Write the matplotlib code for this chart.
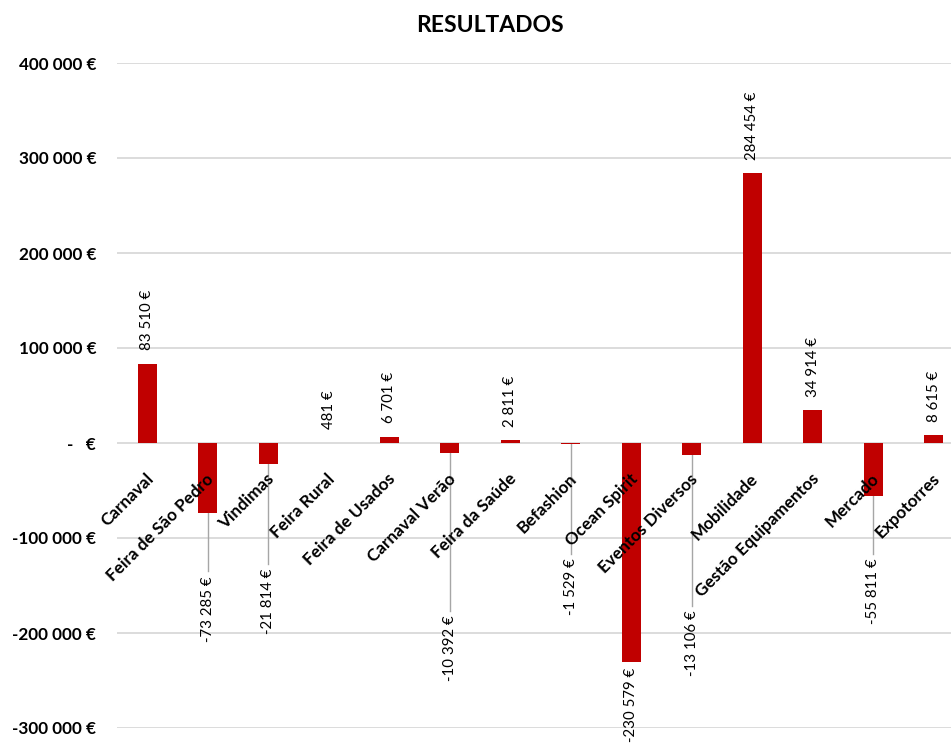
import matplotlib
matplotlib.use("Agg")
import matplotlib.pyplot as plt
from matplotlib.ticker import FuncFormatter

categories = ["Carnaval", "Feira de São Pedro", "Vindimas", "Feira Rural",
              "Feira de Usados", "Carnaval Verão", "Feira da Saúde", "Befashion",
              "Ocean Spirit", "Eventos Diversos", "Mobilidade",
              "Gestão Equipamentos", "Mercado", "Expotorres"]
values = [83510, -73285, -21814, 481, 6701, -10392, 2811, -1529,
          -230579, -13106, 284454, 34914, -55811, 8615]
yticks = [-300000, -200000, -100000, 0, 100000, 200000, 300000, 400000]

# manually placed negative labels (top of label, data units)
neg_label_top = {1: -140000, 2: -132000, 5: -181500, 7: -121500,
                 8: -237000, 9: -176500, 12: -121500}

plt.rcParams['font.family'] = ['Lato', 'DejaVu Sans']

W, H = 951, 743
fig = plt.figure(figsize=(W / 100, H / 100), dpi=100)
ax = fig.add_axes([117 / W, 15 / H, 847 / W, 665 / H])

x = list(range(len(categories)))
ax.bar(x, values, width=0.32, color="#C00000", zorder=3)

ax.set_xlim(-0.5, len(categories) - 0.5)
ax.set_ylim(-300000, 400000)
ax.set_yticks(yticks)


def fmt_tick(v, pos=None):
    if v == 0:
        return "-   €"
    s = f"{abs(int(v)):,}".replace(",", " ")
    return ("-" if v < 0 else "") + s + " €"


def fmt_val(v):
    s = f"{abs(int(v)):,}".replace(",", " ")
    return ("-" if v < 0 else "") + s + " €"


ax.yaxis.set_major_formatter(FuncFormatter(fmt_tick))
ax.tick_params(axis='y', length=0, pad=15, labelsize=12.3)
for lab in ax.get_yticklabels():
    lab.set_fontweight('bold')
ax.set_xticks([])
ax.grid(axis='y', color="#d9d9d9", linewidth=1.3, zorder=0)
for s in ax.spines.values():
    s.set_visible(False)

# category labels at the zero line
for i, c in enumerate(categories):
    ax.annotate(c, xy=(i, 0), xytext=(2.5, -24), textcoords='offset points',
                rotation=45, rotation_mode='anchor', ha='right', va='center',
                fontsize=12.3, fontweight='bold', annotation_clip=False, zorder=4)

# value labels
for i, v in enumerate(values):
    if v >= 0:
        ax.annotate(fmt_val(v), xy=(i, v), xytext=(0, 9.5),
                    textcoords='offset points', rotation=90,
                    ha='center', va='bottom', fontsize=10.8, zorder=5,
                    annotation_clip=False)
    else:
        top = neg_label_top[i]
        ax.text(i, top, fmt_val(v), rotation=90, ha='center', va='top',
                fontsize=10.8, zorder=5, clip_on=False)
        line_end = top + 5000
        if line_end < v - 3000:
            ax.plot([i, i], [v, line_end], color="#a6a6a6", lw=1.0, zorder=2)

fig.text(490 / W, 1 - 25 / H, "RESULTADOS", ha='center', va='center',
         fontsize=16.5, fontweight='bold')

fig.savefig("out.png", dpi=100)
